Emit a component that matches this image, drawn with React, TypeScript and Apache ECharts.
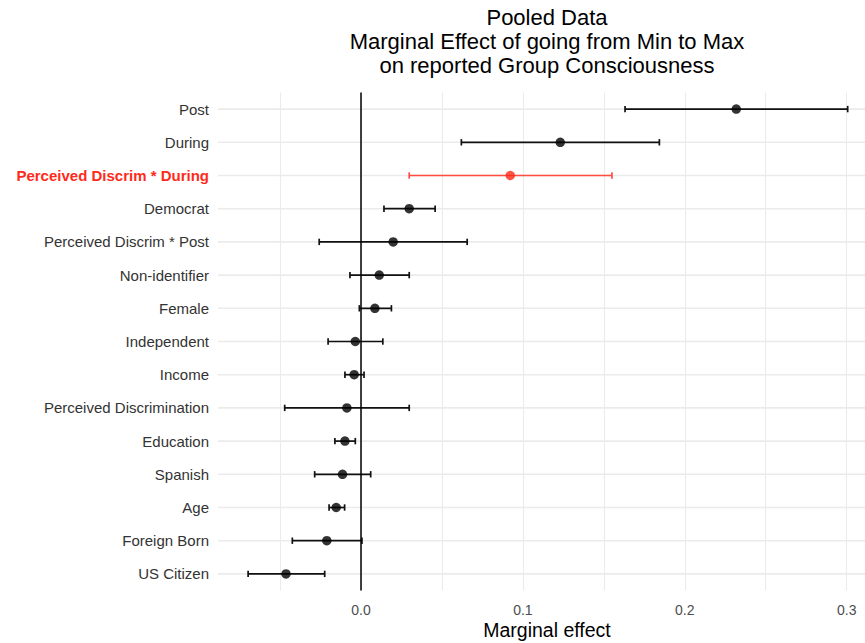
import React, { useEffect, useRef } from "react";
import * as echarts from "echarts";

// Rows listed top to bottom
const categories = [
  "Post",
  "During",
  "Perceived Discrim * During",
  "Democrat",
  "Perceived Discrim * Post",
  "Non-identifier",
  "Female",
  "Independent",
  "Income",
  "Perceived Discrimination",
  "Education",
  "Spanish",
  "Age",
  "Foreign Born",
  "US Citizen",
];
const estimates = [0.2318, 0.1231, 0.0922, 0.0298, 0.0199, 0.0113, 0.0086, -0.0035, -0.0042, -0.0087, -0.0099, -0.0114, -0.0153, -0.0211, -0.0463];
const lower = [0.1631, 0.062, 0.0298, 0.0142, -0.0258, -0.0068, -0.001, -0.0203, -0.0099, -0.0471, -0.0161, -0.0286, -0.0197, -0.0424, -0.0697];
const upper = [0.3006, 0.1843, 0.155, 0.0458, 0.0656, 0.0298, 0.0188, 0.0135, 0.0019, 0.0298, -0.0035, 0.006, -0.0101, 0.0006, -0.0224];
const highlighted = "Perceived Discrim * During";
const gridValues = [-0.05, 0, 0.05, 0.1, 0.15, 0.2, 0.25, 0.3];
const tickLabels = [0, 0.1, 0.2, 0.3];
const titleLines = ["Pooled Data", "Marginal Effect of going from Min to Max", "on reported Group Consciousness"];
const xAxisTitle = "Marginal effect";

const FONT = "'Liberation Sans', Arial, Helvetica, sans-serif";
const RED = "#ff2a1a";
const RED_LINE = "#ff4d42";
const DARK = "#111";

export default function App() {
  const ref = useRef<HTMLDivElement>(null);
  useEffect(() => {
    if (!ref.current) return;
    const chart = echarts.init(ref.current, null, { renderer: "svg" });
    const gridLeft = 218;
    const gridTop = 92.5;
    const gridHeight = 498;
    const gridWidth = 647;

    const barData = categories.map((c, i) => ({
      value: [lower[i], upper[i], i],
      itemStyle: { color: c === highlighted ? RED_LINE : DARK },
    }));
    const pointData = categories.map((c, i) => ({
      value: [estimates[i], i],
      itemStyle: { color: c === highlighted ? RED : "#000" },
    }));

    chart.setOption({
      animation: false,
      backgroundColor: "#fff",
      textStyle: { fontFamily: FONT },
      grid: {
        left: gridLeft,
        top: gridTop,
        width: gridWidth,
        height: gridHeight,
        containLabel: false,
        outerBoundsMode: "none",
      },
      graphic: [
        {
          type: "text",
          x: 547,
          y: 5.5,
          style: {
            text: titleLines.join("\n"),
            textAlign: "center",
            textVerticalAlign: "top",
            fontFamily: FONT,
            fontSize: 22,
            lineHeight: 24,
            fill: "#000",
          },
        },
        {
          type: "text",
          x: 547,
          y: 629.5,
          style: {
            text: xAxisTitle,
            textAlign: "center",
            textVerticalAlign: "middle",
            fontFamily: FONT,
            fontSize: 19.5,
            lineHeight: 18,
            fill: "#000",
          },
        },
      ],
      xAxis: {
        type: "value",
        min: -0.0883,
        max: 0.3113,
        axisLine: { show: false },
        axisTick: { show: false, customValues: gridValues },
        axisLabel: {
          customValues: tickLabels,
          formatter: (v: number) => v.toFixed(1),
          color: "#4d4d4d",
          fontSize: 14,
          lineHeight: 14,
          margin: 12.5,
          fontFamily: FONT,
        },
        splitLine: { show: true, lineStyle: { color: "#ebebeb", width: 1.1 } },
      },
      yAxis: {
        type: "category",
        data: categories,
        inverse: true,
        axisLine: { show: false },
        axisTick: { show: false },
        splitLine: { show: false },
        axisLabel: {
          margin: 9,
          fontSize: 15,
          color: "#333",
          fontFamily: FONT,
          formatter: (v: string) => (v === highlighted ? `{hl|${v}}` : `{n|${v}}`),
          rich: {
            hl: { color: RED, fontWeight: "bold", fontSize: 15, fontFamily: FONT },
            n: { color: "#333", fontSize: 15, fontFamily: FONT },
          },
        },
      },
      series: [
        {
          type: "custom",
          name: "rowgrid",
          z: 1,
          silent: true,
          data: categories.map((_, i) => [0, i]),
          encode: { x: 0, y: 1 },
          renderItem: (params: any, api: any) => {
            const y = api.coord([0, api.value(1)])[1];
            const cs = params.coordSys;
            return {
              type: "line",
              shape: { x1: cs.x, y1: y, x2: cs.x + cs.width, y2: y },
              style: { stroke: "#ebebeb", lineWidth: 1.6 },
            };
          },
        },
        {
          type: "custom",
          name: "ci",
          z: 3,
          data: barData,
          encode: { x: [0, 1], y: 2 },
          renderItem: (params: any, api: any) => {
            const idx = api.value(2);
            const p1 = api.coord([api.value(0), idx]);
            const p2 = api.coord([api.value(1), idx]);
            const color = api.visual("color");
            const h = 3.2;
            const st = { stroke: color, lineWidth: 1.7 };
            return {
              type: "group",
              children: [
                { type: "line", shape: { x1: p1[0], y1: p1[1], x2: p2[0], y2: p2[1] }, style: st },
                { type: "line", shape: { x1: p1[0], y1: p1[1] - h, x2: p1[0], y2: p1[1] + h }, style: st },
                { type: "line", shape: { x1: p2[0], y1: p2[1] - h, x2: p2[0], y2: p2[1] + h }, style: st },
              ],
            };
          },
        },
        {
          type: "scatter",
          name: "est",
          z: 4,
          symbol: "circle",
          symbolSize: 9.5,
          data: pointData,
          markLine: {
            silent: true,
            symbol: "none",
            label: { show: false },
            lineStyle: { color: "#000", width: 1.5, type: "solid" },
            data: [{ xAxis: 0 }],
          },
        },
      ],
    });
    return () => chart.dispose();
  }, []);
  return <div ref={ref} style={{ position: "fixed", left: 0, top: 0, width: 865, height: 643 }} />;
}
